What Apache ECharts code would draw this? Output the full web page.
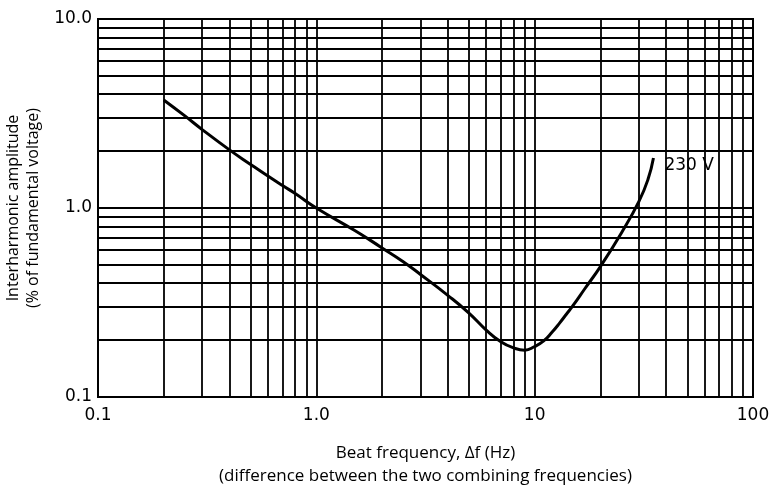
<!DOCTYPE html>
<html>
<head>
<meta charset="utf-8">
<script src="https://cdn.jsdelivr.net/npm/echarts@6/dist/echarts.min.js"></script>
<style>
html,body{margin:0;padding:0;background:#fff;}
#chart{width:782px;height:486px;}
</style>
</head>
<body>
<div id="chart"></div>
<script>
// Data
var beatFreq = [0.2, 0.25, 0.3, 0.4, 0.5, 0.6, 0.7, 0.8, 1.0, 1.5, 2, 2.5, 3, 4, 5, 6, 7, 8, 9, 10, 11, 12, 13, 14, 15, 17, 20, 25, 30, 33, 35];
var amplitude = [3.73, 3.07, 2.6, 2.03, 1.70, 1.475, 1.314, 1.193, 1.0, 0.76, 0.615, 0.52, 0.445, 0.345, 0.278, 0.226, 0.196, 0.182, 0.177, 0.185, 0.198, 0.220, 0.246, 0.275, 0.305, 0.375, 0.49, 0.74, 1.08, 1.41, 1.84];
var seriesName = '230 V';
var xTickLabels = ['0.1', '1.0', '10', '100'];
var yTickLabels = ['0.1', '1.0', '10.0'];
var xGridValues = [0.2,0.3,0.4,0.5,0.6,0.7,0.8,0.9,1,2,3,4,5,6,7,8,9,10,20,30,40,50,60,70,80,90];
var yGridValues = [0.2,0.3,0.4,0.5,0.6,0.7,0.8,0.9,1,2,3,4,5,6,7,8,9];
var xTitle = 'Beat frequency, \u0394f (Hz)\n(difference between the two combining frequencies)';
var yTitle = 'Interharmonic amplitude\n(% of fundamental voltage)';

var FONT = 'Open Sans';
var NUMFONT = 'DejaVu Sans';
var chart = echarts.init(document.getElementById('chart'), null, {renderer: 'canvas'});

var gridLines = [];
xGridValues.forEach(function (v) { gridLines.push({xAxis: v}); });
yGridValues.forEach(function (v) { gridLines.push({yAxis: v}); });

function tickLabel(list, v) {
  var i = Math.round(Math.log10(v)) + 1;
  return list[i] !== undefined ? list[i] : '';
}

chart.setOption({
  animation: false,
  backgroundColor: '#ffffff',
  grid: {left: 98, right: 29, top: 19, bottom: 89, containLabel: false, outerBoundsMode: 'none',
    show: true, borderColor: '#000', borderWidth: 2, backgroundColor: 'transparent'},
  xAxis: {
    type: 'log', logBase: 10, min: 0.1, max: 100,
    axisLine: {show: true, lineStyle: {color: '#000', width: 2}},
    axisTick: {show: false},
    splitLine: {show: false},
    axisLabel: {color: '#000', fontFamily: NUMFONT, fontSize: 17, margin: 10,
      formatter: function (v) { return tickLabel(xTickLabels, v); }},
    name: xTitle, nameLocation: 'middle', nameGap: 45,
    nameTextStyle: {color: '#000', fontFamily: FONT, fontSize: 17, lineHeight: 23}
  },
  yAxis: {
    type: 'log', logBase: 10, min: 0.1, max: 10,
    axisLine: {show: true, lineStyle: {color: '#000', width: 2}},
    axisTick: {show: false},
    splitLine: {show: false},
    axisLabel: {color: '#000', fontFamily: NUMFONT, fontSize: 17, margin: 6,
      formatter: function (v) { return tickLabel(yTickLabels, v); }},
    name: yTitle, nameLocation: 'middle', nameGap: 43, nameRotate: 90,
    nameTextStyle: {color: '#000', fontFamily: FONT, fontSize: 16, lineHeight: 20}
  },
  series: [{
    name: seriesName,
    type: 'line',
    data: beatFreq.map(function (x, i) { return [x, amplitude[i]]; }),
    smooth: 0.5,
    showSymbol: false,
    symbol: 'none',
    lineStyle: {color: '#000', width: 3},
    endLabel: {show: true, formatter: seriesName, color: '#000', fontFamily: NUMFONT, fontSize: 17, offset: [3, 8]},
    markLine: {
      silent: true, symbol: ['none', 'none'], animation: false,
      label: {show: false},
      lineStyle: {color: '#000', width: 1.8, type: 'solid'},
      emphasis: {disabled: true},
      data: gridLines
    },
    z: 3
  }]
});
</script>
</body>
</html>
